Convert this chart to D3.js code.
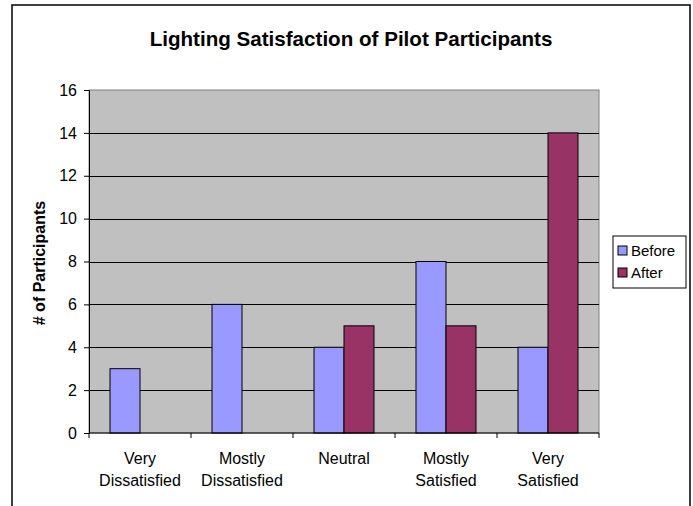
<!DOCTYPE html>
<html>
<head>
  <meta charset="utf-8">
  <title>Lighting Satisfaction of Pilot Participants</title>
  <style>
    body { margin: 0; background: white; }
    svg  { font-family: "Liberation Sans", Arial, sans-serif; }
    .tick text { font-size: 16px; fill: black; }
    .tick line { stroke: black; }
  </style>
</head>
<body>
<svg id="chart" width="693" height="506"></svg>

<script src="https://cdn.jsdelivr.net/npm/d3@7"></script>
<script>

// values
var categories = [["Very", "Dissatisfied"], ["Mostly", "Dissatisfied"], ["Neutral"],
                  ["Mostly", "Satisfied"], ["Very", "Satisfied"]];
var seriesNames = ["Before", "After"];
var before = [3, 6, 4, 8, 4];
var after  = [0, 0, 5, 5, 14];
var yTicks = [0, 2, 4, 6, 8, 10, 12, 14, 16];
var colors = ["#9999FF", "#993366"];

var rows = categories.map((c, i) => ({ cat: c.join(" "), lines: c, values: [before[i], after[i]] }));

var svg = d3.select("#chart");

// outer chart border
svg.append("rect")
  .attr("x", 12).attr("y", 5)
  .attr("width", 678).attr("height", 530)
  .attr("fill", "white")
  .attr("stroke", "black")
  .attr("stroke-width", 1.5);

var plot = { left: 89, top: 90, right: 599, bottom: 433 };

var x0 = d3.scaleBand()
  .domain(rows.map(d => d.cat))
  .range([plot.left, plot.right]);

var x1 = d3.scaleBand()
  .domain(seriesNames)
  .range([0, x0.bandwidth()])
  .paddingOuter(0.7);

var y = d3.scaleLinear()
  .domain([0, 16])
  .range([plot.bottom, plot.top]);

// plot area
svg.append("rect")
  .attr("x", plot.left).attr("y", plot.top)
  .attr("width", plot.right - plot.left)
  .attr("height", plot.bottom - plot.top)
  .attr("fill", "#C0C0C0")
  .attr("stroke", "#808080");

// gridlines
svg.append("g")
  .selectAll("line")
  .data(yTicks.slice(1, -1))
  .enter().append("line")
  .attr("x1", plot.left).attr("x2", plot.right)
  .attr("y1", d => Math.round(y(d)) + 0.5)
  .attr("y2", d => Math.round(y(d)) + 0.5)
  .attr("stroke", "black");

// bars
var groups = svg.append("g")
  .selectAll("g")
  .data(rows)
  .enter().append("g")
  .attr("transform", d => "translate(" + x0(d.cat) + ",0)");

groups.selectAll("rect")
  .data(d => d.values.map((v, i) => ({ key: seriesNames[i], value: v, i: i })))
  .enter().append("rect")
  .filter(d => d.value > 0)
  .attr("x", d => x1(d.key))
  .attr("y", d => y(d.value))
  .attr("width", x1.bandwidth())
  .attr("height", d => y(0) - y(d.value))
  .attr("fill", d => colors[d.i])
  .attr("stroke", "black")
  .attr("stroke-width", 1);

// y axis
var yAxis = d3.axisLeft(y).tickValues(yTicks).tickSize(5).tickPadding(7);
svg.append("g")
  .attr("transform", "translate(" + plot.left + ",0)")
  .call(yAxis)
  .call(g => g.select(".domain").attr("stroke", "black"));

// x axis with ticks on category boundaries
var xg = svg.append("g")
  .attr("transform", "translate(0," + plot.bottom + ")");
xg.append("line")
  .attr("x1", plot.left).attr("x2", plot.right)
  .attr("stroke", "black");
xg.selectAll(".xt")
  .data(rows.map(d => x0(d.cat)).concat([plot.right]))
  .enter().append("line")
  .attr("x1", d => d).attr("x2", d => d)
  .attr("y1", 0).attr("y2", 5)
  .attr("stroke", "black");

var labels = xg.selectAll(".xl")
  .data(rows)
  .enter().append("text")
  .attr("text-anchor", "middle")
  .attr("font-size", 16)
  .attr("transform", d => "translate(" + (x0(d.cat) + x0.bandwidth() / 2) + ",0)");
labels.selectAll("tspan")
  .data(d => d.lines)
  .enter().append("tspan")
  .attr("x", 0)
  .attr("y", (d, i) => 31 + i * 22)
  .text(d => d);

// title
svg.append("text")
  .attr("x", 351).attr("y", 46)
  .attr("text-anchor", "middle")
  .attr("font-size", 20.6)
  .attr("font-weight", "bold")
  .text("Lighting Satisfaction of Pilot Participants");

// y axis title
svg.append("text")
  .attr("transform", "translate(45,263) rotate(-90)")
  .attr("text-anchor", "middle")
  .attr("font-size", 16)
  .attr("font-weight", "bold")
  .text("# of Participants");

// legend
var legend = svg.append("g").attr("transform", "translate(613,236)");
legend.append("rect")
  .attr("width", 73).attr("height", 52)
  .attr("fill", "white")
  .attr("stroke", "black");
var items = legend.selectAll(".li")
  .data(seriesNames)
  .enter().append("g")
  .attr("transform", (d, i) => "translate(5," + (15 + i * 22) + ")");
items.append("rect")
  .attr("x", 0).attr("y", -5)
  .attr("width", 9).attr("height", 9)
  .attr("fill", (d, i) => colors[i])
  .attr("stroke", "black");
items.append("text")
  .attr("x", 13).attr("y", 5)
  .attr("font-size", 15)
  .text(d => d);

</script>
</body>
</html>
